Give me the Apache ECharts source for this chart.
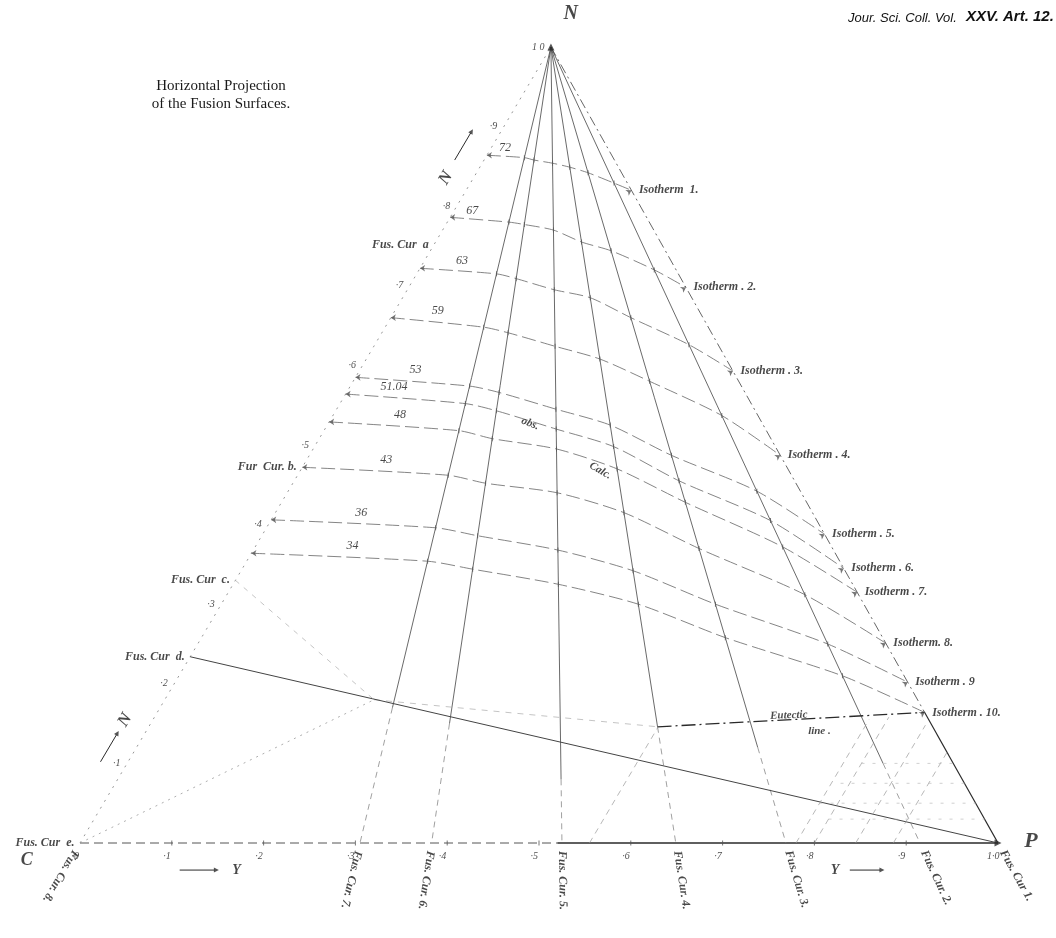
<!DOCTYPE html>
<html>
<head>
<meta charset="utf-8">
<script src="https://cdn.jsdelivr.net/npm/echarts@6/dist/echarts.min.js"></script>
<style>
html, body { margin: 0; padding: 0; background: #fff; }
#chart { width: 1056px; height: 938px; }
</style>
</head>
<body>
<div id="chart"></div>
<script>
// Horizontal projection of the fusion surfaces in the C – P – N triangle.
// N fraction runs up the page, P fraction along the base C → P.

// Horizontal position of the apex N over the base (C = 0, P = 1)
const APEX = 0.513;

// Base scale C → P and side scale C → N
const baseTicks = [0, 0.1, 0.2, 0.3, 0.4, 0.5, 0.6, 0.7, 0.8, 0.9, 1.0];
const baseTickLabels = ['·0', '·1', '·2', '·3', '·4', '·5', '·6', '·7', '·8', '·9', '1·0'];
const sideTicks = [0.1, 0.2, 0.3, 0.4, 0.5, 0.6, 0.7, 0.8, 0.9, 1.0];
const sideTickLabels = ['·1', '·2', '·3', '·4', '·5', '·6', '·7', '·8', '·9', '1 0'];

// Fusion curves 8 … 1 run from N down to these points of the base (P fraction)
const fusNames = ['Fus. Cur. 8.', 'Fus. Cur. 7.', 'Fus. Cur. 6.', 'Fus. Cur. 5.',
                  'Fus. Cur. 4.', 'Fus. Cur. 3.', 'Fus. Cur. 2.', 'Fus. Cur 1.'];
const fusBase = [0, 0.305, 0.383, 0.525, 0.649, 0.769, 0.915, 1.0];
// N fraction at which each curve stops being drawn solid
const fusSolidTo = [null, 0.17, 0.15, 0.08, 0.146, 0.12, 0.10, 0.164];

// Isotherms: temperature and the N fraction at which each crosses Fus. Cur. 8 … 1
const isoTemps = ['72', '67', '63', '59', '53', '51.04', '48', '43', '36', '34'];
const isoNames = ['Isotherm  1.', 'Isotherm . 2.', 'Isotherm . 3.', 'Isotherm . 4.', 'Isotherm . 5.',
                  'Isotherm . 6.', 'Isotherm . 7.', 'Isotherm. 8.', 'Isotherm . 9', 'Isotherm . 10.'];
const iso1  = [0.864, 0.861, 0.858, 0.854, 0.849, 0.842, 0.829, 0.820];
const iso2  = [0.786, 0.780, 0.777, 0.770, 0.755, 0.744, 0.720, 0.698];
const iso3  = [0.722, 0.715, 0.709, 0.695, 0.685, 0.660, 0.626, 0.593];
const iso4  = [0.660, 0.648, 0.641, 0.624, 0.608, 0.580, 0.537, 0.487];
const iso5  = [0.585, 0.574, 0.566, 0.545, 0.525, 0.487, 0.442, 0.388];
const iso6  = [0.564, 0.552, 0.543, 0.520, 0.498, 0.455, 0.405, 0.345];
const iso7  = [0.529, 0.518, 0.508, 0.495, 0.470, 0.428, 0.372, 0.315];
const iso8  = [0.472, 0.462, 0.452, 0.440, 0.415, 0.370, 0.312, 0.251];
const iso9  = [0.406, 0.396, 0.386, 0.368, 0.342, 0.300, 0.250, 0.202];
const iso10 = [0.364, 0.354, 0.344, 0.325, 0.300, 0.258, 0.210, 0.164];
const isotherms = [iso1, iso2, iso3, iso4, iso5, iso6, iso7, iso8, iso9, iso10];

// Eutectic line: from Fus. Cur. 4 to the N – P side (N fraction at each end)
const eutecticN = [0.146, 0.164];

// Fusion curves a … e start on the C – N side at these N fractions
const sideCurveNames = ['Fus. Cur  a', 'Fur  Cur. b.', 'Fus. Cur  c.', 'Fus. Cur  d.', 'Fus. Cur  e.'];
const sideCurveN = [0.752, 0.472, 0.330, 0.234, 0.0];

// Construction lines below the eutectic: constant-P lines and constant-N lines
const constP = [0.555, 0.78, 0.80, 0.845, 0.886];
const constPTop = [0.1445, 0.155, 0.158, 0.148, 0.114];
const constN = [0.03, 0.05, 0.075, 0.10];
const constNFrom = [0.80, 0.78, 0.79, 0.80];

// ---- ternary helpers ----
function tern(n, p) { return [p + n * APEX, n]; }
function onFus(b, n) { return tern(n, (1 - n) * b); }

const INK = '#2a2a2a';
const FAINT = '#8a8a8a';
const ITAL = { fontFamily: 'Liberation Serif', fontStyle: 'italic', color: '#1a1a1a' };

const series = [];
function line(points, color, width, type, extra) {
  series.push(Object.assign({
    type: 'line', data: points, symbol: 'none', silent: true, animation: false,
    lineStyle: { color: color, width: width, type: type }, z: 2
  }, extra || {}));
}
function labels(items, labelOpt, z) {
  series.push({
    type: 'scatter', silent: true, animation: false, symbolSize: 1, z: z || 5,
    itemStyle: { color: 'rgba(0,0,0,0)' },
    data: items.map(it => ({ value: it.at, label: Object.assign({ formatter: it.text }, it.label || {}) })),
    label: Object.assign({ show: true }, ITAL, labelOpt)
  });
}
function marks(points, symbol, size, rotate, color) {
  series.push({
    type: 'scatter', silent: true, animation: false, symbol: symbol, symbolSize: size,
    data: points.map((p, i) => ({ value: p, symbolRotate: Array.isArray(rotate) ? rotate[i] : rotate })),
    itemStyle: { color: color || INK }, z: 4
  });
}

// ---- frame ----
// base C → P: dashed on the C half, solid towards P
line([tern(0, 0), tern(0, 0.52)], '#555', 1, [9, 5]);
line([tern(0, 0.52), tern(0, 1)], INK, 1.3, 'solid');
// side C → N
line([tern(0, 0), tern(1, 0)], FAINT, 0.9, [2, 6]);
// side N → P: dash-dot above the eutectic end, solid below
line([onFus(1, 1), onFus(1, eutecticN[1])], '#555', 0.9, [10, 4, 2, 4]);
line([onFus(1, eutecticN[1]), onFus(1, 0)], INK, 1.2, 'solid');

// ---- fusion curves 7 … 2 from N ----
for (let i = 1; i < 7; i++) {
  const b = fusBase[i], s = fusSolidTo[i];
  line([onFus(b, 1), onFus(b, s)], '#444', 0.8, 'solid');
  line([onFus(b, s), onFus(b, 0)], '#888', 0.8, [6, 5]);
}

// ---- isotherms ----
isotherms.forEach(iso => {
  const pts = iso.map((n, i) => onFus(fusBase[i], n));
  line(pts, '#666', 0.8, [14, 5], { smooth: 0.25 });
});
// crossing marks on the fusion curves
marks([].concat(...isotherms.map(iso => iso.slice(1, 7).map((n, i) => onFus(fusBase[i + 1], n)))),
  'rect', [1, 5], 0, '#555');

// ---- eutectic line ----
line([onFus(fusBase[4], eutecticN[0]), onFus(1, eutecticN[1])], INK, 1.3, [14, 4, 2, 4]);
line([tern(0.18, 0.228), onFus(fusBase[4], eutecticN[0])], '#aaa', 0.7, [6, 6]);

// ---- side curve d runs across to P; c and e lead towards the eutectic ----
line([tern(sideCurveN[3], 0), tern(0, 1)], '#444', 1, 'solid');
line([tern(0, 0), tern(0.18, 0.228)], '#999', 0.8, [2, 5]);
line([tern(sideCurveN[2], 0), tern(0.18, 0.228)], '#aaa', 0.7, [5, 6]);

// ---- construction lines in the P corner ----
constP.forEach((p, i) => line([tern(0, p), tern(constPTop[i], p)], '#9a9a9a', 0.7, [6, 5]));
constN.forEach((n, i) => line([tern(n, constNFrom[i]), tern(n, 1 - n)], '#bbb', 0.7, [3, 8]));

// ---- arrowheads: apex, P, ends of isotherms ----
marks([tern(1, 0)], 'triangle', 7, 0);
marks([tern(0, 1)], 'triangle', 7, -90);
marks(isotherms.map(iso => tern(iso[0], 0)), 'arrow', 5, 90, '#555');
marks(isotherms.map(iso => onFus(1, iso[7])), 'arrow', 5, -60, '#555');

// ---- scale labels ----
labels(baseTicks.map((v, i) => ({ at: tern(-0.01, v), text: baseTickLabels[i] })),
  { position: 'inside', fontSize: 10, verticalAlign: 'top' });
labels(sideTicks.map((v, i) => ({ at: tern(v, 0), text: sideTickLabels[i] })),
  { position: 'left', distance: 6, fontSize: 10 });

// tick marks on the base
marks(baseTicks.slice(1, 10).map(v => tern(0, v)), 'rect', [1, 5], 0, '#555');

// ---- fusion curve names below the base, along each curve ----
labels(fusBase.map((b, i) => {
  const dx = (b - APEX) * 918, dy = 796;
  const ang = Math.atan2(dy, dx) * 180 / Math.PI;
  return { at: onFus(b, -0.01), text: fusNames[i], label: { rotate: -ang } };
}), { position: 'inside', align: 'left', verticalAlign: 'middle', fontSize: 12, fontWeight: 'bold', letterSpacing: 2.5 });

// ---- isotherm labels ----
const tempOffsets = [12, 16, 36, 41, 54, 35, 65, 78, 84, 95];
labels(isotherms.map((iso, k) => ({
  at: tern(iso[0], 0), text: isoTemps[k], label: { offset: [tempOffsets[k], -7] }
})), { position: 'inside', align: 'left', verticalAlign: 'middle', fontSize: 12, letterSpacing: 3 });
labels(isotherms.map((iso, k) => ({ at: onFus(1, iso[7]), text: isoNames[k] })),
  { position: 'right', distance: 7, fontSize: 12, fontWeight: 'bold', letterSpacing: 0.5 });

// ---- side curve names ----
labels(sideCurveN.map((n, i) => ({ at: tern(n, 0), text: sideCurveNames[i] })),
  { position: 'left', distance: 5, fontSize: 12, fontWeight: 'bold', letterSpacing: 0.5 });

// ---- other annotations ----
labels([
  { at: tern(0.1595, 0.67), text: 'Eutectic', label: { rotate: 2 } },
  { at: tern(0.1407, 0.721), text: 'line .' },
  { at: tern(0.531, 0.209), text: 'obs.', label: { rotate: -22 } },
  { at: tern(0.475, 0.312), text: 'Calc.', label: { rotate: -30 } }
], { position: 'inside', align: 'left', verticalAlign: 'middle', fontSize: 11, fontWeight: 'bold' });

// vertex letters and direction marks
labels([
  { at: tern(1.042, 0), text: 'N', label: { fontSize: 20 } },
  { at: tern(0, 1), text: 'P', label: { fontSize: 22, offset: [33, -2] } },
  { at: tern(-0.022, 0), text: 'C', label: { fontSize: 18, offset: [-43, 0] } },
  { at: tern(-0.034, 0.188), text: 'Y', label: { fontSize: 14 } },
  { at: tern(-0.034, 0.84), text: 'Y', label: { fontSize: 14 } },
  { at: tern(0.8354, -0.03), text: 'N', label: { fontSize: 17, rotate: 59 } },
  { at: tern(0.1545, -0.03), text: 'N', label: { fontSize: 17, rotate: 59 } }
], { position: 'inside', fontWeight: 'bold' });
line([tern(-0.034, 0.126), tern(-0.034, 0.164)], INK, 1, 'solid');
marks([tern(-0.034, 0.166)], 'triangle', 5, -90);
line([tern(-0.034, 0.856), tern(-0.034, 0.889)], INK, 1, 'solid');
marks([tern(-0.034, 0.891)], 'triangle', 5, -90);
line([tern(0.858, -0.032), tern(0.892, -0.032)], INK, 1, 'solid');
marks([tern(0.894, -0.032)], 'triangle', 5, -30);
line([tern(0.102, -0.030), tern(0.136, -0.030)], INK, 1, 'solid');
marks([tern(0.138, -0.030)], 'triangle', 5, -30);

const option = {
  backgroundColor: '#ffffff',
  animation: false,
  grid: { left: 0, right: 0, top: 0, bottom: 0 },
  xAxis: { type: 'value', min: -80 / 918, max: 1 + 58 / 918, show: false },
  yAxis: { type: 'value', min: -95 / 796, max: 1 + 47 / 796, show: false },
  graphic: [
    { type: 'text', x: 221, y: 86, style: { text: 'Horizontal Projection', font: '15px "Liberation Serif"', fill: '#1a1a1a', align: 'center', verticalAlign: 'middle' } },
    { type: 'text', x: 221, y: 104, style: { text: 'of the Fusion Surfaces.', font: '15px "Liberation Serif"', fill: '#1a1a1a', align: 'center', verticalAlign: 'middle' } },
    { type: 'text', x: 848, y: 18, style: { text: 'Jour. Sci. Coll. Vol.', font: 'italic 13px "Liberation Sans"', fill: '#111', verticalAlign: 'middle' } },
    { type: 'text', x: 966, y: 17, style: { text: 'XXV. Art. 12.', font: 'italic bold 15px "Liberation Sans"', fill: '#111', verticalAlign: 'middle' } }
  ],
  series: series
};
const chart = echarts.init(document.getElementById('chart'));
chart.setOption(option);
</script>
</body>
</html>
